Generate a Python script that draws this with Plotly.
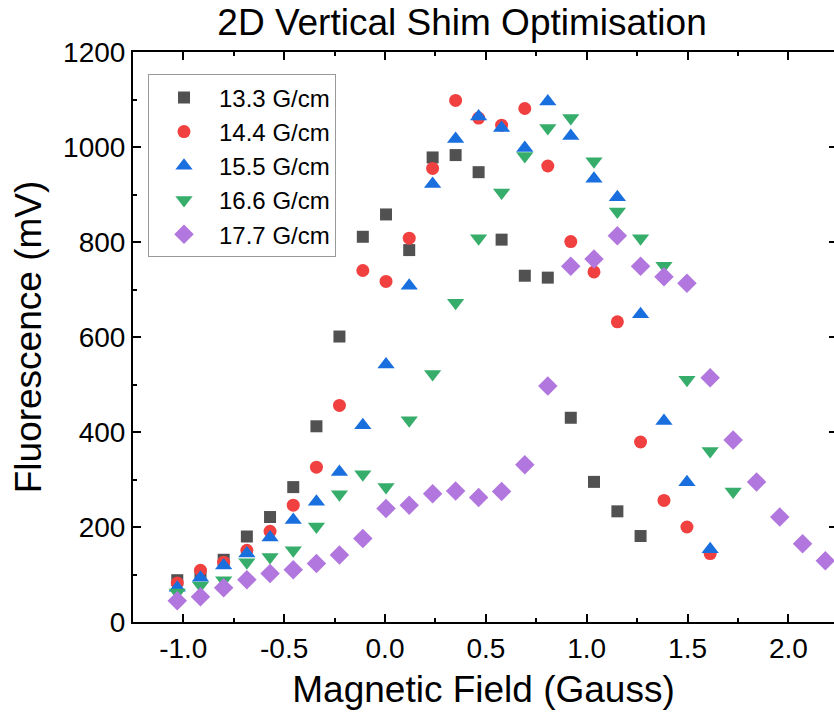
import plotly.graph_objects as go

# Magnetic field positions (Gauss)
field = [-1.03, -0.915, -0.80, -0.685, -0.57, -0.455, -0.34, -0.226, -0.11, 0.005,
         0.12, 0.236, 0.35, 0.464, 0.578, 0.693, 0.807, 0.921, 1.036, 1.152,
         1.267, 1.383, 1.497, 1.612, 1.726, 1.842, 1.957, 2.07, 2.183]

# Fluorescence (mV) per gradient
g133 = [88, 100, 131, 180, 221, 284, 412, 601, 811, 858, 783, 978, 983, 947, 805,
        729, 725, 430, 295, 233, 181]
g144 = [82, 109, 126, 151, 191, 246, 326, 456, 740, 717, 808, 955, 1098, 1061, 1046,
        1081, 960, 801, 737, 632, 379, 256, 200, 144]
g155 = [72, 93, 119, 144, 178, 215, 253, 316, 414, 542, 708, 922, 1017, 1064, 1040,
        998, 1096, 1023, 933, 894, 648, 423, 294, 153]
g166 = [62, 77, 88, 126, 137, 151, 201, 269, 311, 284, 425, 522, 672, 808, 904,
        981, 1040, 1061, 970, 864, 808, 750, 510, 360, 275]
g177 = [45, 53, 72, 89, 102, 110, 123, 141, 176, 239, 246, 270, 276, 262, 275,
        331, 497, 749, 764, 813, 749, 727, 713, 514, 383, 295, 221, 165, 129]

names = ["13.3 G/cm", "14.4 G/cm", "15.5 G/cm", "16.6 G/cm", "17.7 G/cm"]
series = [g133, g144, g155, g166, g177]
colors = ["#515151", "#F14040", "#1A6FDF", "#37AD6B", "#B177DE"]
symbols = ["square", "circle", "triangle-up", "triangle-down", "diamond"]
sizes = [12, 13, 15, 15, 15]

FONT = "Liberation Sans, Arial, sans-serif"

fig = go.Figure()
for name, vals, col, sym, sz in zip(names, series, colors, symbols, sizes):
    fig.add_trace(go.Scatter(
        x=field[:len(vals)], y=vals, mode="markers", name=name,
        marker=dict(symbol=sym, color=col, size=sz, line=dict(width=0)),
    ))

# empty trace so the right-hand tick axis is created
fig.add_trace(go.Scatter(x=[], y=[], yaxis="y2", showlegend=False, hoverinfo="skip"))

axis_common = dict(
    showgrid=False, zeroline=False, showline=True, linecolor="black", linewidth=2,
    ticks="inside", ticklen=8, tickwidth=2, tickcolor="black",
    tickfont=dict(family=FONT, size=28, color="black"),
)

fig.update_layout(
    width=834, height=724, autosize=False,
    margin=dict(l=133, r=0, t=52, b=102),
    paper_bgcolor="white", plot_bgcolor="white",
    font=dict(family=FONT, color="black"),
    title=dict(text="2D Vertical Shim Optimisation", x=0.554, xanchor="center",
               y=1 - 22 / 724, yanchor="middle",
               font=dict(family=FONT, size=37, color="black")),
    xaxis=dict(
        range=[-1.2495, 2.226], tickmode="array",
        tickvals=[-1.0, -0.5, 0.0, 0.5, 1.0, 1.5, 2.0],
        ticktext=["-1.0", "-0.5", "0.0", "0.5", "1.0", "1.5", "2.0"],
        mirror="ticks",
        minor=dict(ticks="inside", dtick=0.25, tick0=0, ticklen=4, tickwidth=2,
                   tickcolor="black"),
        title=dict(text="Magnetic Field (Gauss)", font=dict(family=FONT, size=37),
                   standoff=14),
        **axis_common,
    ),
    yaxis=dict(
        range=[0, 1200], tickmode="array",
        tickvals=[0, 200, 400, 600, 800, 1000, 1200],
        minor=dict(ticks="inside", dtick=100, tick0=0, ticklen=4, tickwidth=2,
                   tickcolor="black"),
        title=dict(text="Fluorescence (mV)", font=dict(family=FONT, size=37),
                   standoff=10),
        **axis_common,
    ),
    yaxis2=dict(
        overlaying="y", side="right", range=[0, 1200], showline=False,
        showgrid=False, zeroline=False, showticklabels=False,
        tickmode="array", tickvals=[200, 400, 600, 800, 1000],
        ticks="inside", ticklen=5, tickwidth=2, tickcolor="black",
    ),
    legend=dict(
        x=(148 - 133) / 701, y=(621.7 - 74) / 570, xanchor="left", yanchor="top",
        bgcolor="white", bordercolor="#999999", borderwidth=1,
        font=dict(family=FONT, size=24, color="black"),
        itemwidth=60, tracegroupgap=0, entrywidth=125,
    ),
    showlegend=True,
)

fig.write_html("out.html")
